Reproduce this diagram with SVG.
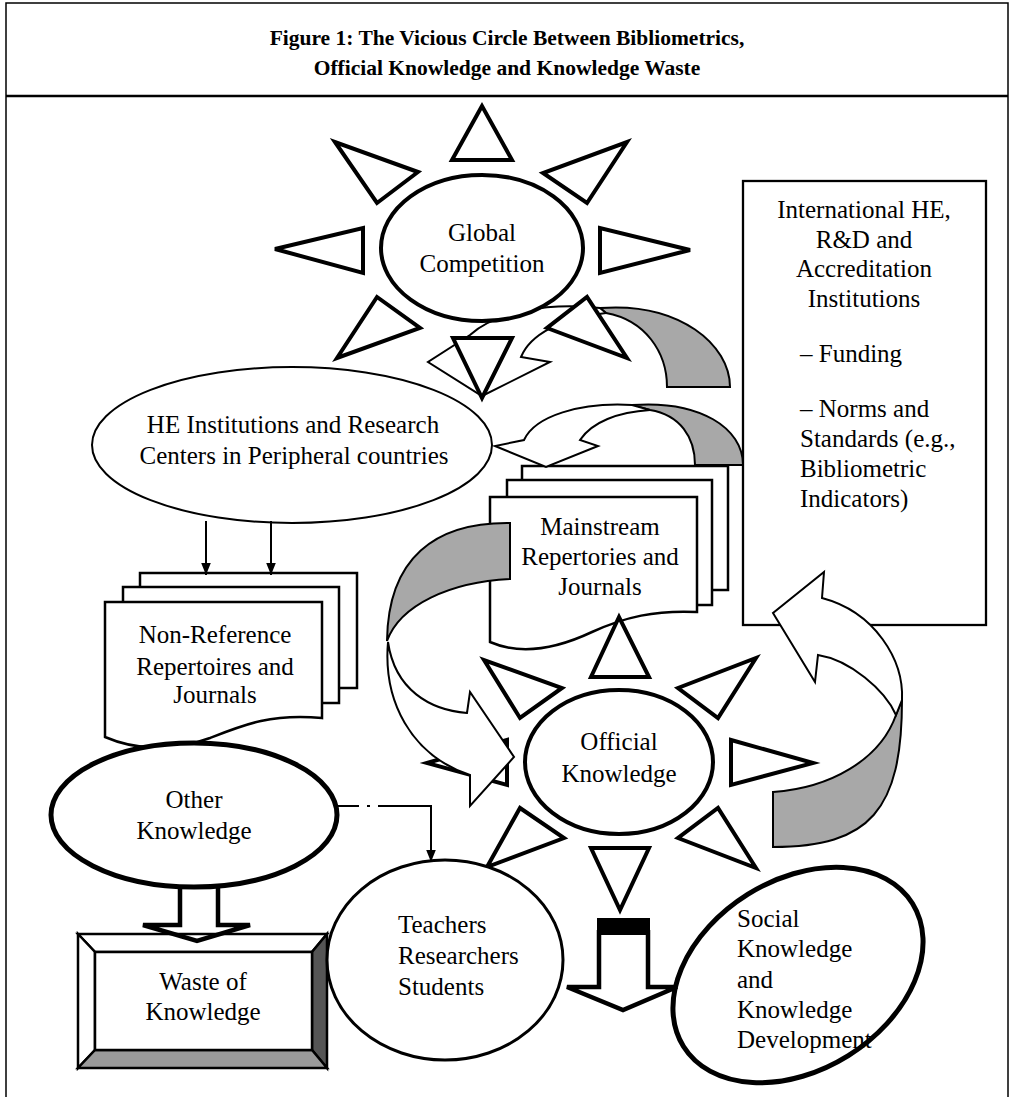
<svg xmlns="http://www.w3.org/2000/svg" width="1013" height="1097" viewBox="0 0 1013 1097">
<defs>
<style>
text{font-family:"Liberation Serif","Times New Roman",serif;font-size:25px;fill:#000}
.t{font-weight:bold;font-size:21.5px}
.c{text-anchor:middle}
.ray{fill:#fff;stroke:#000;stroke-width:4;stroke-linejoin:miter}
.sunc{fill:#fff;stroke:#000;stroke-width:4}
.page{fill:#fff;stroke:#000;stroke-width:2.5}
.band{fill:#fff;stroke:#000;stroke-width:2;stroke-linejoin:miter}
.back{fill:#a8a8a8;stroke:#000;stroke-width:2}
.ln{fill:none;stroke:#000;stroke-width:2}
.blk{fill:none;stroke:#000;stroke-width:4.5;stroke-linejoin:miter}
.bev{stroke:#000;stroke-width:2.5;stroke-linejoin:miter}
</style>
<marker id="ah" viewBox="0 0 10 10" refX="10" refY="5" markerWidth="12" markerHeight="12" markerUnits="userSpaceOnUse" orient="auto">
<path d="M0,1 L10,5 L0,9 z" fill="#000"/>
</marker>
</defs>
<rect x="0" y="0" width="1013" height="1097" fill="#fff"/>
<g id="frame">
<rect x="6" y="3" width="1002" height="1110" fill="none" stroke="#000" stroke-width="1.5"/>
<line x1="6" y1="96" x2="1008" y2="96" stroke="#000" stroke-width="2.5"/>
<text class="t c" x="507" y="45">Figure 1: The Vicious Circle Between Bibliometrics,</text>
<text class="t c" x="507" y="75">Official Knowledge and Knowledge Waste</text>
</g>
<g id="he-institutions">
<ellipse cx="292" cy="445" rx="200" ry="78" fill="#fff" stroke="#000" stroke-width="2"/>
<text class="c" x="293" y="433">HE Institutions and Research</text>
<text class="c" x="294" y="464">Centers in Peripheral countries</text>
</g>
<g id="mainstream">
<rect class="page" x="522" y="466" width="206" height="124"/>
<rect class="page" x="507" y="480" width="205" height="125"/>
<path class="page" d="M490,497 L697,497 L697,612 C655,610 625,617 592,632 C558,648 522,656 490,642 Z"/>
<text class="c" x="600" y="535">Mainstream</text>
<text class="c" x="600" y="565">Repertories and</text>
<text class="c" x="600" y="595">Journals</text>
</g>
<g id="international">
<rect x="743" y="181" width="243" height="444" fill="#fff" stroke="#000" stroke-width="2.3"/>
<text class="c" x="864" y="218">International HE,</text>
<text class="c" x="864" y="248">R&amp;D and</text>
<text class="c" x="864" y="277">Accreditation</text>
<text class="c" x="864" y="307">Institutions</text>
<text x="800" y="362">– Funding</text>
<text x="800" y="417">– Norms and</text>
<text x="800" y="447">Standards (e.g.,</text>
<text x="800" y="477">Bibliometric</text>
<text x="800" y="507">Indicators)</text>
</g>
<g id="official-knowledge">
<polygon class="ray" points="619,617 591,677 649,677"/>
<polygon class="ray" points="591,848 649,848 620,910"/>
<polygon class="ray" points="427,763 507,740 507,785"/>
<polygon class="ray" points="813,763 731,740 731,785"/>
<polygon class="ray" points="484,660 520,718 562,688"/>
<polygon class="ray" points="756,658 718,718 678,688"/>
<polygon class="ray" points="487,867 520,808 564,838"/>
<polygon class="ray" points="756,868 718,808 678,838"/>
<ellipse class="sunc" cx="619" cy="762" rx="94" ry="72"/>
<text class="c" x="619" y="750">Official</text>
<text class="c" x="619" y="782">Knowledge</text>
</g>
<g id="non-reference">
<rect class="page" x="140" y="573" width="217" height="115"/>
<rect class="page" x="123" y="587" width="216" height="116"/>
<path class="page" d="M105,602 L322,602 L322,718 C272,713 243,725 210,738 C172,752 135,750 105,737 Z"/>
<text class="c" x="215" y="643">Non-Reference</text>
<text class="c" x="215" y="675">Repertoires and</text>
<text class="c" x="215" y="703">Journals</text>
</g>
<g id="other-knowledge">
<ellipse cx="194" cy="815" rx="143" ry="72" fill="#fff" stroke="#000" stroke-width="5"/>
<text class="c" x="194" y="808">Other</text>
<text class="c" x="194" y="839">Knowledge</text>
</g>
<g id="waste">
<polygon class="bev" fill="#fff" points="78,934 327,934 312,952 95,952"/>
<polygon class="bev" fill="#fff" points="78,934 95,952 95,1050 78,1068"/>
<polygon class="bev" fill="#555" points="327,934 327,1068 312,1050 312,952"/>
<polygon class="bev" fill="#9a9a9a" points="78,1068 327,1068 312,1050 95,1050"/>
<rect class="bev" fill="#fff" x="95" y="952" width="217" height="98"/>
<text class="c" x="203" y="990">Waste of</text>
<text class="c" x="203" y="1020">Knowledge</text>
</g>
<g id="teachers">
<ellipse cx="445" cy="960" rx="118" ry="100" fill="#fff" stroke="#000" stroke-width="3"/>
<text x="398" y="933">Teachers</text>
<text x="398" y="964">Researchers</text>
<text x="398" y="995">Students</text>
</g>
<g id="social">
<ellipse cx="798" cy="975" rx="135" ry="95" transform="rotate(-32 798 975)" fill="#fff" stroke="#000" stroke-width="5"/>
<text x="737" y="927">Social</text>
<text x="737" y="957">Knowledge</text>
<text x="737" y="988">and</text>
<text x="737" y="1018">Knowledge</text>
<text x="737" y="1048">Development</text>
</g>
<g id="connectors">
<g id="arrow-competition-to-he">
<path class="back" d="M600,308 C680,302 730,345 730,387 L667,387 C667,352 645,320 606,313 Z"/>
<path class="band" d="M600,308 C548,302 495,312 470,335 L428,362 L482,396 L550,362 L521,357 C530,335 560,318 606,313 Z"/>
</g>
<g id="arrow-international-to-mainstream">
<path class="back" d="M632,405 C700,400 743,428 743,465 L695,465 C695,437 680,415 650,410 Z"/>
<path class="band" d="M632,405 C580,402 535,416 524,440 L495,446 L546,467 L598,446 L580,440 C592,422 618,412 650,410 Z"/>
</g>
<g id="arrow-mainstream-to-official">
<path class="back" d="M510,523 C435,522 388,558 387,641 C400,605 450,582 510,579 Z"/>
<path class="band" d="M388,642 C383,700 410,755 470,775 L470,806 L514,757 L470,692 L467,713 C430,710 395,690 388,642 Z"/>
</g>
<g id="arrow-official-to-international">
<path class="back" d="M773,792 C830,788 880,760 896,715 L902,700 C902,810 870,847 773,847 Z"/>
<path class="band" d="M902,700 C904,660 875,612 822,598 L824,572 L773,613 L815,682 L818,655 C850,660 885,690 896,715 Z"/>
</g>
<path class="ln" d="M206,521 L206,575" marker-end="url(#ah)"/>
<path class="ln" d="M271,521 L271,575" marker-end="url(#ah)"/>
<path class="ln" d="M337,806 L431,806" stroke-dasharray="22,8,3,8,100,0"/>
<path class="ln" d="M431,805 L431,862" marker-end="url(#ah)"/>
<path class="blk" d="M180,886 L180,925 L143,925 L197,941 L250,925 L218,925 L218,886"/>
<path class="blk" d="M599,930 L599,987 L567,987 L623,1010 L677,987 L648,987 L648,930"/>
<rect x="597" y="918" width="53" height="17" fill="#000"/>
</g>
<g id="global-competition">
<polygon class="ray" points="482,106 452,160 512,160"/>
<polygon class="ray" points="335,142 377,203 418,172"/>
<polygon class="ray" points="627,142 587,203 543,173"/>
<polygon class="ray" points="275,249 363,228 363,273"/>
<polygon class="ray" points="690,250 600,228 600,273"/>
<polygon class="ray" points="337,358 377,297 420,328"/>
<polygon class="ray" points="627,358 587,297 547,328"/>
<polygon class="ray" points="453,338 512,338 482,398"/>
<ellipse class="sunc" cx="482" cy="248" rx="101" ry="73"/>
<text class="c" x="482" y="241">Global</text>
<text class="c" x="482" y="272">Competition</text>
</g>
</svg>
